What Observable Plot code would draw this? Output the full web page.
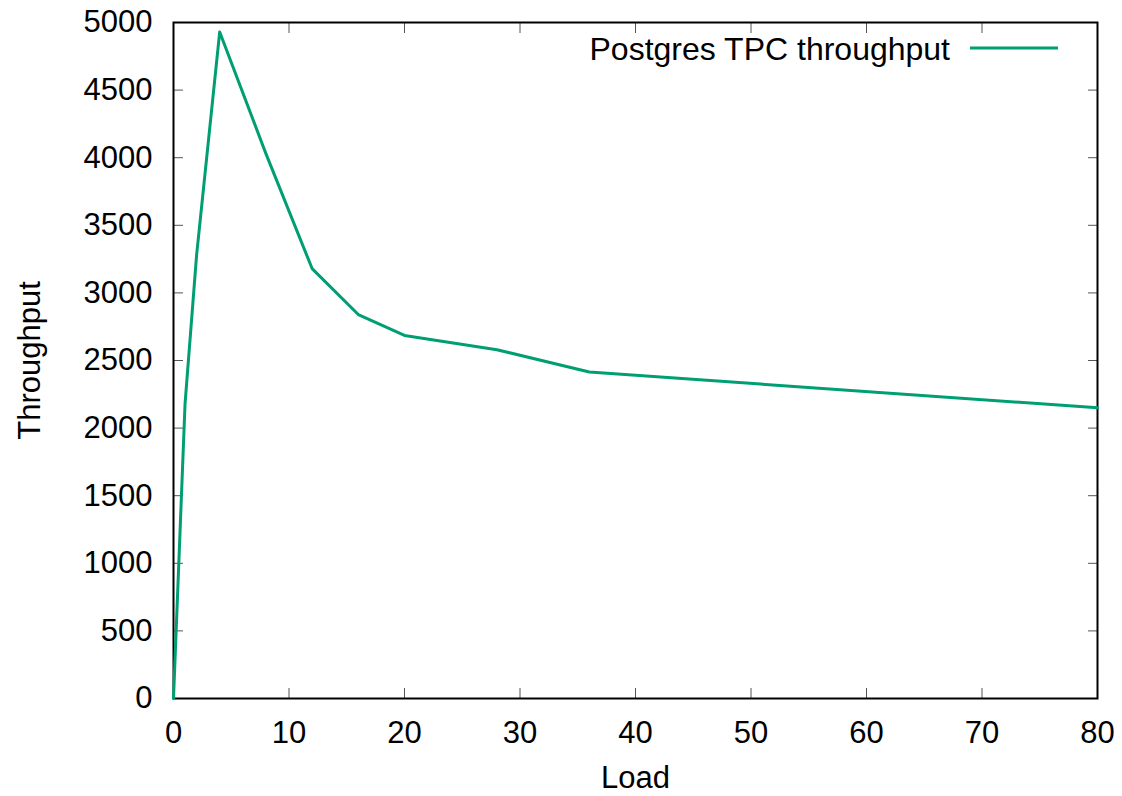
<!DOCTYPE html>
<html><head><meta charset="utf-8">
<script src="https://cdn.jsdelivr.net/npm/d3@7"></script>
<script src="https://cdn.jsdelivr.net/npm/@observablehq/plot@0.6"></script>
<style>
html,body{margin:0;padding:0;background:#fff;}
#wrap{position:relative;width:1122px;height:796px;font-family:"Liberation Sans",Arial,sans-serif;}
#legend{position:absolute;top:31px;right:64px;display:flex;align-items:center;font-size:32px;line-height:36px;color:#000;}
#legend svg{margin-left:20px;}
</style></head>
<body><div id="wrap"><div id="legend"><span id="lt"></span><svg width="88" height="10"><line x1="0" y1="4" x2="88" y2="4" stroke="#009e73" stroke-width="3"/></svg></div></div>
<script>
const seriesName = "Postgres TPC throughput";
const load = [0, 1, 2, 4, 8, 12, 16, 20, 28, 36, 80];
const throughput = [0, 2180, 3280, 4930, 4030, 3180, 2840, 2685, 2580, 2415, 2150];
const xTicks = [0, 10, 20, 30, 40, 50, 60, 70, 80];
const yTicks = [0, 500, 1000, 1500, 2000, 2500, 3000, 3500, 4000, 4500, 5000];
const xLabel = "Load";
const yLabel = "Throughput";

const data = load.map((x, i) => ({x, y: throughput[i]}));
document.getElementById("lt").textContent = seriesName;
const fs = 31;

const chart = Plot.plot({
  width: 1122, height: 796,
  marginLeft: 173, marginRight: 25, marginTop: 22, marginBottom: 98,
  style: {fontFamily: '"Liberation Sans", Arial, sans-serif', fontSize: fs + "px", color: "#000", background: "#fff"},
  x: {domain: [0, 80]},
  y: {domain: [0, 5000]},
  marks: [
    Plot.axisX({anchor: "bottom", ticks: xTicks, tickSize: -10, tickPadding: 32, stroke: "#555", fill: "#000", fontSize: fs, tickFormat: d => String(d), label: null}),
    Plot.axisX({anchor: "top", ticks: xTicks, tickSize: -10, stroke: "#555", tickFormat: () => "", label: null}),
    Plot.axisY({anchor: "left", ticks: yTicks, tickSize: -10, tickPadding: 31, stroke: "#555", fill: "#000", fontSize: fs, tickFormat: d => String(d), label: null}),
    Plot.axisY({anchor: "right", ticks: yTicks, tickSize: -10, stroke: "#555", tickFormat: () => "", label: null}),
    Plot.frame({stroke: "#000", strokeWidth: 2}),
    Plot.line(data, {x: "x", y: "y", stroke: "#009e73", strokeWidth: 3}),
    Plot.text([xLabel], {frameAnchor: "bottom", textAnchor: "middle", lineAnchor: "middle", dy: 80, text: d => d, fontSize: fs}),
    Plot.text([yLabel], {frameAnchor: "left", textAnchor: "middle", lineAnchor: "middle", dx: -143, rotate: -90, text: d => d, fontSize: fs})
  ]
});
document.getElementById("wrap").prepend(chart);
</script></body></html>
